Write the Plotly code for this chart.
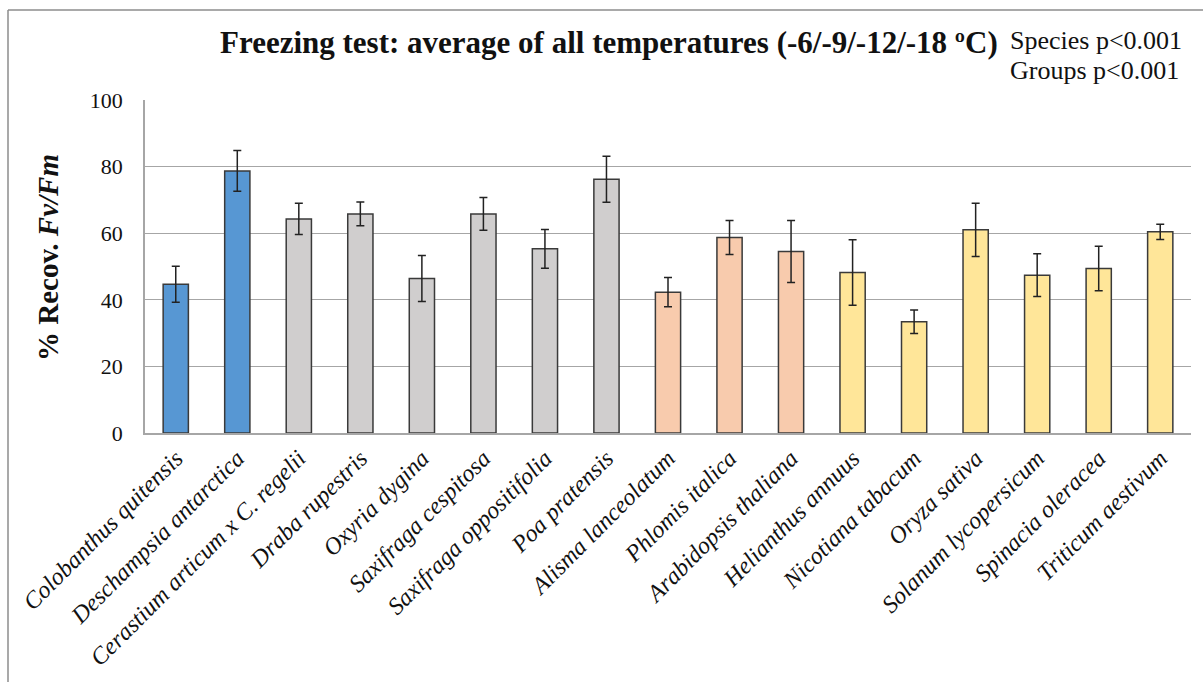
import plotly.graph_objects as go

# Species and their mean % recovery of Fv/Fm with standard errors
species = [
    "Colobanthus quitensis", "Deschampsia antarctica", "Cerastium articum x C. regelii",
    "Draba rupestris", "Oxyria dygina", "Saxifraga cespitosa", "Saxifraga oppositifolia",
    "Poa pratensis", "Alisma lanceolatum", "Phlomis italica", "Arabidopsis thaliana",
    "Helianthus annuus", "Nicotiana tabacum", "Oryza sativa", "Solanum lycopersicum",
    "Spinacia oleracea", "Triticum aestivum",
]
recovery = [44.7, 78.7, 64.3, 65.8, 46.4, 65.8, 55.3, 76.2, 42.3, 58.7, 54.5,
            48.2, 33.4, 61.0, 47.4, 49.4, 60.4]
error = [5.4, 6.1, 4.7, 3.6, 6.9, 4.9, 5.8, 6.9, 4.4, 5.1, 9.3,
         9.8, 3.5, 8.0, 6.4, 6.7, 2.3]
groups = ["antarctic"] * 2 + ["alpine"] * 6 + ["mediterranean"] * 3 + ["crop"] * 6

group_colors = {
    "antarctic": "#5797d3",
    "alpine": "#d0cece",
    "mediterranean": "#f8cbad",
    "crop": "#ffe699",
}

fig = go.Figure(
    go.Bar(
        x=species,
        y=recovery,
        marker=dict(
            color=[group_colors[g] for g in groups],
            line=dict(color="#3a3a3a", width=1.5),
        ),
        error_y=dict(type="data", array=error, color="#222222", thickness=1.5, width=4),
        width=0.41,
    )
)

serif = "Liberation Serif"

fig.update_layout(
    width=1203,
    height=682,
    margin=dict(l=145, r=12, t=100, b=249),
    paper_bgcolor="white",
    plot_bgcolor="white",
    showlegend=False,
    font=dict(family=serif, color="#111111"),
    xaxis=dict(
        tickangle=-45,
        tickfont=dict(family=serif, size=24, color="#111111", style="italic"),
        showline=True,
        linecolor="#a6a6a6",
        linewidth=1.5,
        ticks="",
        showgrid=False,
    ),
    yaxis=dict(
        range=[0, 100],
        tickvals=[0, 20, 40, 60, 80, 100],
        tickfont=dict(family=serif, size=22, color="#111111"),
        showline=True,
        linecolor="#a6a6a6",
        linewidth=1.5,
        showgrid=True,
        gridcolor="#a6a6a6",
        gridwidth=1,
        ticks="",
        ticklabelstandoff=16,
        zeroline=False,
    ),
    shapes=[
        # frame around the chart (top and left edges)
        dict(type="line", xref="paper", yref="paper",
             x0=-137 / 1046, x1=1.2, y0=423 / 333, y1=423 / 333,
             line=dict(color="#8c8c8c", width=1.5)),
        dict(type="line", xref="paper", yref="paper",
             x0=-137 / 1046, x1=-137 / 1046, y0=-1.0, y1=423 / 333,
             line=dict(color="#8c8c8c", width=1.5)),
    ],
    annotations=[
        dict(
            text="<b>Freezing test: average of all temperatures (-6/-9/-12/-18 ºC)</b>",
            xref="paper", yref="paper", x=855 / 1046, y=(433 - 43) / 333,
            xanchor="right", yanchor="middle", showarrow=False,
            font=dict(family=serif, size=31, color="#111111"),
        ),
        dict(
            text="Species p<0.001",
            xref="paper", yref="paper", x=863 / 1046, y=(433 - 40) / 333,
            xanchor="left", yanchor="middle", showarrow=False,
            font=dict(family=serif, size=26, color="#111111"),
        ),
        dict(
            text="Groups p<0.001",
            xref="paper", yref="paper", x=863 / 1046, y=(433 - 70) / 333,
            xanchor="left", yanchor="middle", showarrow=False,
            font=dict(family=serif, size=26, color="#111111"),
        ),
        dict(
            text="<b>% Recov. <i>Fv/Fm</i></b>",
            xref="paper", yref="paper", x=-97 / 1046, y=(433 - 258) / 333,
            xanchor="center", yanchor="middle", textangle=-90, showarrow=False,
            font=dict(family=serif, size=29, color="#111111"),
        ),
    ],
)

fig.write_html("out.html")
